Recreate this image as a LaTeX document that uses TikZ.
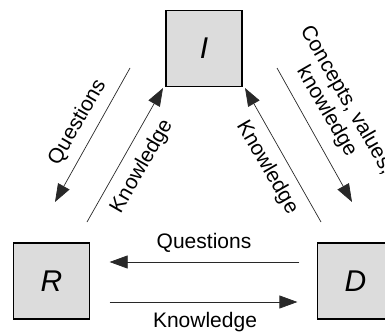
\documentclass[tikz,border=0pt]{standalone}
\usepackage{fontspec}
\setmainfont{Liberation Sans}
\usepackage{xcolor}
\usepackage{tikz}
\usetikzlibrary{arrows.meta,positioning}

\definecolor{boxgray}{RGB}{220,220,220}
\definecolor{linegray}{RGB}{40,40,40}

\begin{document}
\begin{tikzpicture}[x=1pt,y=1pt,
    box/.style={draw, line width=1.2pt, fill=boxgray, minimum size=76pt, inner sep=0pt, font=\fontsize{30}{32}\selectfont\itshape},
    flow/.style={-{Triangle[length=18pt,width=13pt]}, line width=0.7pt, draw=linegray},
    lbl/.style={font=\fontsize{21}{21}\selectfont, inner sep=0pt}]
                        \useasboundingbox (0,0) rectangle (385,333);
                        \node[box] (I) at (204, 284.5) {I};
                        \node[box] (R) at (51.5, 52) {R};
                        \node[box] (D) at (355.5, 52) {D};
                        % ends of the slanted arrows
                        \coordinate (qa) at (130, 265);
                        \coordinate (qb) at (55, 131);
                        \coordinate (ka) at (87, 111);
                        \coordinate (kb) at (163, 245);
                        \coordinate (kc) at (321, 111);
                        \coordinate (kd) at (245, 245);
                        \coordinate (ca) at (277, 265);
                        \coordinate (cb) at (352, 131);
                        \draw [flow] (qa) -- (qb);
                        \draw [flow] (ka) -- (kb);
                        \draw [flow] (kc) -- (kd);
                        \draw [flow] (ca) -- (cb);
                        \draw [flow, shorten <=17.5pt, shorten >=19.5pt] ([yshift=19pt]D.west) -- ([yshift=19pt]R.east);
                        \draw [flow, shorten <=19.5pt, shorten >=19.5pt] ([yshift=-21pt]R.east) -- ([yshift=-21pt]D.west);
                        % labels
                        \node[lbl, rotate=60] (lq) at (77.5, 210.5) {Questions};
                        \node[lbl, rotate=60] (lk) at (142, 166.5) {Knowledge};
                        \node[lbl, rotate=-60] (rk) at (267, 165.5) {Knowledge};
                        \node[lbl, rotate=-60, align=center] (rc) at (336.5, 227) {Concepts, values,\\[2pt]knowledge};
                        \node[lbl] (bq) at (204, 90.5) {Questions};
                        \node[lbl] (bk) at (205, 10.5) {Knowledge};
                        \end{tikzpicture}
\end{document}
